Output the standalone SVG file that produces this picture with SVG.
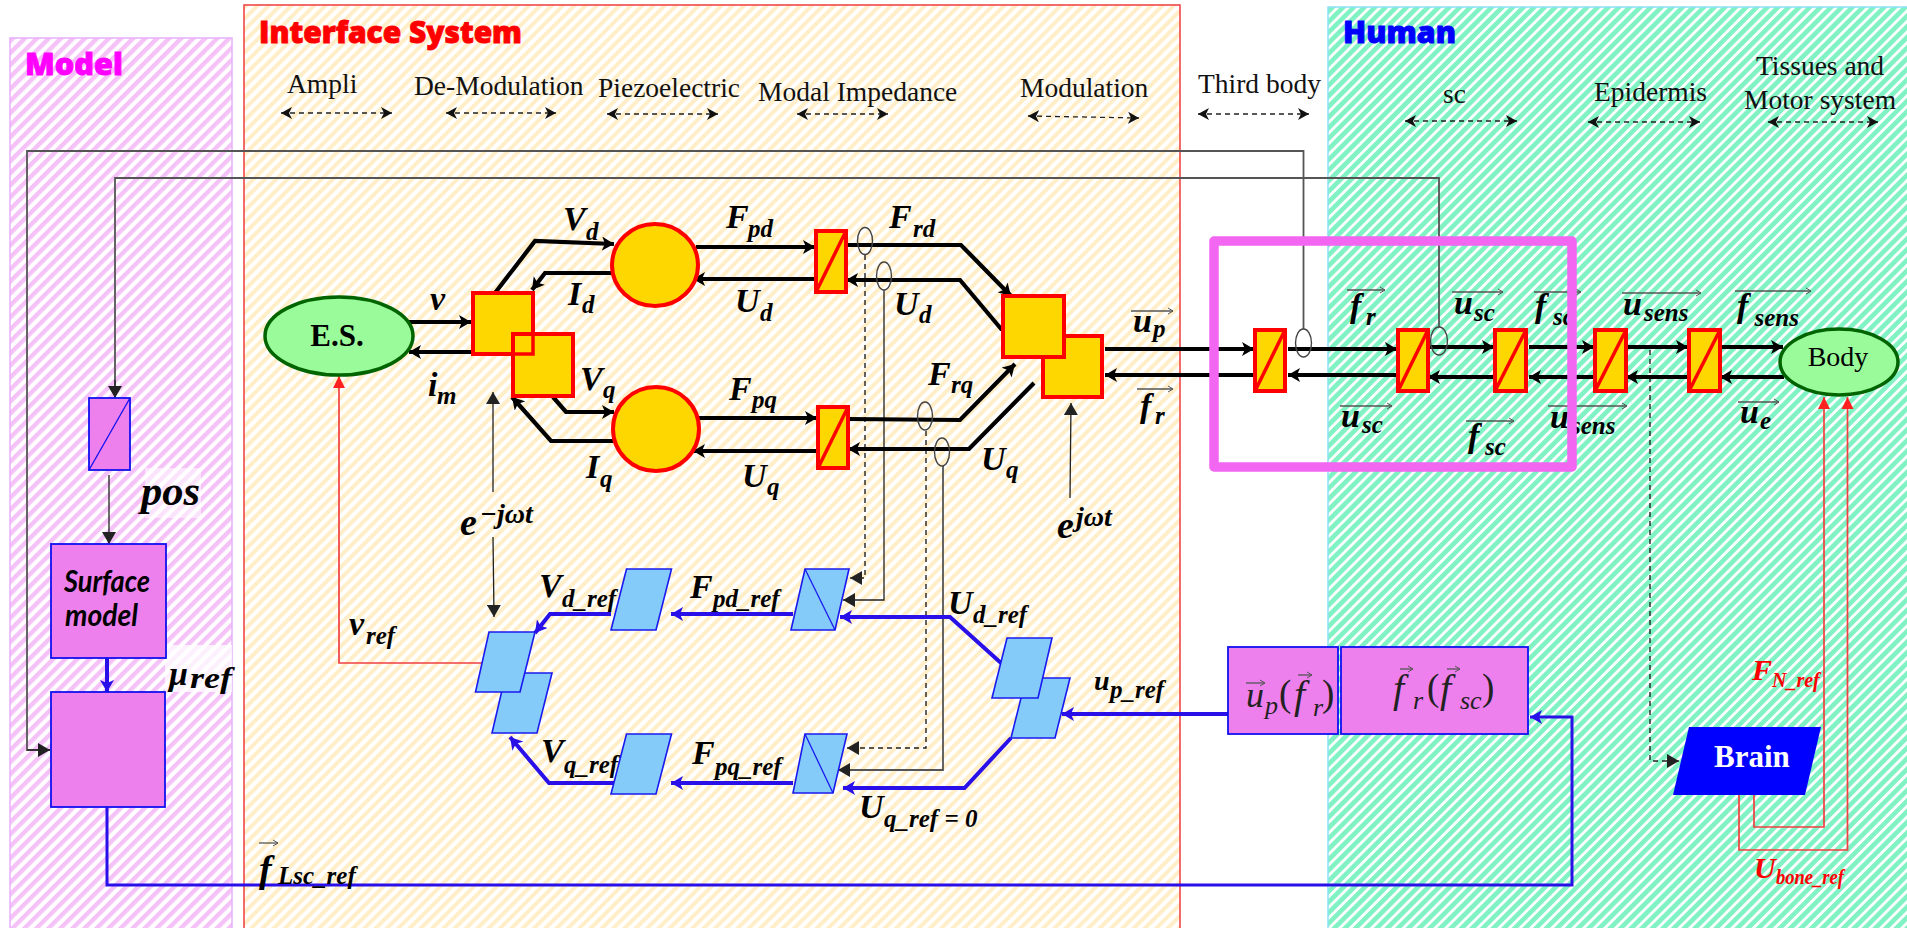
<svg xmlns="http://www.w3.org/2000/svg" width="1907" height="928" viewBox="0 0 1907 928">
<style>
text{font-family:"Liberation Serif","Times New Roman",serif;fill:#000}
.t{font-size:27.5px;fill:#111}
.h{font-family:"Open Sans","Liberation Sans",sans-serif;font-weight:800;font-size:30px;stroke-width:.9}
.m{font-weight:700;font-style:italic;font-size:34px}
.s{font-weight:700;font-style:italic;font-size:25px}
.ss{font-weight:700;font-style:italic;font-size:20px}
.f{font-style:italic;font-size:40px;fill:#222}
.fs{font-style:italic;font-size:26px;fill:#222}
.p{font-size:37px;fill:#222}
.sm{font-family:"Lato","Open Sans",sans-serif;font-weight:700;font-style:italic;font-size:30px}
.k{fill:none;stroke:#000;stroke-width:4.2}
.b{fill:none;stroke:#2A10E8;stroke-width:4}
.b3{fill:none;stroke:#2A10E8;stroke-width:3}
.g{fill:none;stroke:#555;stroke-width:1.8}
.g1{fill:none;stroke:#222;stroke-width:1.3}
.d{fill:none;stroke:#222;stroke-width:1.4;stroke-dasharray:5 4}
.r{fill:none;stroke:#F04040;stroke-width:1.7}
.oval{fill:none;stroke:#444;stroke-width:1.4}
.dim{fill:none;stroke:#222;stroke-width:1.3;stroke-dasharray:5 4;marker-start:url(#dimh);marker-end:url(#dimh)}
.vec{fill:none;stroke:#555;stroke-width:1.3;marker-end:url(#v)}
.y{fill:#FFD700;stroke:#FF0000;stroke-width:4}
.yd{fill:none;stroke:#FF0000;stroke-width:3.5}
.lb{fill:#85CBF9;stroke:#1A1AF0;stroke-width:1.6}
.pk{fill:#ED80ED;stroke:#1010F0;stroke-width:1.8}
.ma{marker-end:url(#ak)}
.mb{marker-end:url(#ab)}
.mg{marker-end:url(#ag)}
.mr{marker-end:url(#ar)}
</style>
<defs>
<pattern id="hm" width="8.5" height="8.5" patternUnits="userSpaceOnUse" patternTransform="rotate(45)"><rect width="8.5" height="8.5" fill="#fff"/><rect width="4.4" height="8.5" fill="#F5C2F8"/></pattern>
<pattern id="hi" width="8" height="8" patternUnits="userSpaceOnUse" patternTransform="rotate(45)"><rect width="8" height="8" fill="#fff"/><rect width="4" height="8" fill="#FFEEC8"/></pattern>
<pattern id="hh" width="7.5" height="7.5" patternUnits="userSpaceOnUse" patternTransform="rotate(45)"><rect width="7.5" height="7.5" fill="#fff"/><rect width="4.7" height="7.5" fill="#80F2C4"/></pattern>
<marker id="ak" markerUnits="userSpaceOnUse" markerWidth="13" markerHeight="14" refX="12" refY="7" orient="auto"><path d="M0 0L12 7L0 14L3 7Z" fill="#000"/></marker>
<marker id="ab" markerUnits="userSpaceOnUse" markerWidth="13" markerHeight="14" refX="12" refY="7" orient="auto"><path d="M0 0L12 7L0 14L3 7Z" fill="#2A10E8"/></marker>
<marker id="ag" markerUnits="userSpaceOnUse" markerWidth="13" markerHeight="14" refX="12" refY="7" orient="auto"><path d="M0 0L12 7L0 14Z" fill="#222"/></marker>
<marker id="ar" markerUnits="userSpaceOnUse" markerWidth="13" markerHeight="14" refX="12" refY="7" orient="auto"><path d="M0 1L12 7L0 13Z" fill="#FF2020"/></marker>
<marker id="dimh" markerUnits="userSpaceOnUse" markerWidth="12" markerHeight="14" refX="11" refY="7" orient="auto-start-reverse"><path d="M0 1L11 7L0 13L3 7Z" fill="#111"/></marker>
<marker id="v" markerUnits="userSpaceOnUse" markerWidth="7" markerHeight="8" refX="6" refY="4" orient="auto"><path d="M1 1L6 4L1 7" fill="none" stroke="#555" stroke-width="1"/></marker>
</defs>
<rect width="1907" height="928" fill="#fff"/>
<g id="panels">
<rect id="panel-model" x="10" y="38" width="222" height="900" fill="url(#hm)" stroke="#E8B0FA" stroke-width="1.5"/>
<rect id="panel-interface" x="244" y="5" width="936" height="933" fill="url(#hi)" stroke="#F04848" stroke-width="1.6"/>
<rect id="panel-human" x="1328" y="7" width="590" height="931" fill="url(#hh)" stroke="#8CE0F5" stroke-width="1.5"/>
<rect x="145" y="468" width="56" height="50" fill="#fff" fill-opacity=".55"/>
<rect x="165" y="645" width="67" height="47" fill="#fff" fill-opacity=".75"/>
</g>
<g id="connectors">
<path class="g" d="M1303.5 329V151H27V750H50" />
<path class="g1 mg" d="M27 750H50"/>
<path class="g" d="M1439 327V178H115V398"/>
<path class="g1 mg" d="M115 380V398"/>
<path class="g1 mg" d="M109 475V544"/>
<path class="g1 mg" d="M493 492V392"/>
<path class="g1 mg" d="M493 537L494 617"/>
<path class="g1 mg" d="M1070 498L1071 403"/>
<path class="d" d="M865 255V578H852"/><path class="g1 mg" d="M860 578H850"/>
<path class="g1 mg" d="M884 290V600H843"/>
<path class="d" d="M926 431V748H849"/><path class="g1 mg" d="M858 748H847"/>
<path class="g mg" d="M943 466V770H838"/>
<path class="d" d="M1650 350V761H1669"/><path class="g1 mg" d="M1668 761H1679"/>
<path class="r mr" d="M482 663H339V376"/>
<path class="r mr" d="M1754 791V827H1824V397"/>
<path class="r mr" d="M1739 794V850H1847.5V397"/>
<path class="k ma" d="M409 322H471"/>
<path class="k ma" d="M471 352H409"/>
<path class="k ma" d="M495 293L535 241L614 244"/>
<path class="k ma" d="M612 273H545L532 290"/>
<path class="k ma" d="M553 397L566 412H614"/>
<path class="k ma" d="M613 441H551L512 397"/>
<path class="k ma" d="M696 247H815"/>
<path class="k ma" d="M815 279H693"/>
<path class="k ma" d="M846 245H961L1011 296"/>
<path class="k ma" d="M1002 330L960 280H846"/>
<path class="k ma" d="M696 418H817"/>
<path class="k ma" d="M817 451H693"/>
<path class="k ma" d="M848 419L960 420L1015 364"/>
<path class="k ma" d="M1034 383L969 449H848"/>
<path class="k ma" d="M1105 349H1254"/>
<path class="k ma" d="M1254 375H1105"/>
<path class="k ma" d="M1288 349H1397"/>
<path class="k ma" d="M1397 375H1288"/>
<path class="k ma" d="M1428 347H1494"/>
<path class="k ma" d="M1494 377H1428"/>
<path class="k ma" d="M1529 347H1594"/>
<path class="k ma" d="M1594 377H1529"/>
<path class="k ma" d="M1626 347H1688"/>
<path class="k ma" d="M1688 377H1626"/>
<path class="k ma" d="M1720 347H1783"/>
<path class="k ma" d="M1784 377H1720"/>
<path class="b mb" d="M611 614H550L535 633"/>
<path class="b mb" d="M614 783H549L510 737"/>
<path class="b mb" d="M793 614H671"/>
<path class="b mb" d="M793 783H671"/>
<path class="b mb" d="M1001 663L950 617H840"/>
<path class="b mb" d="M1011 738L964.500 788H843"/>
<path class="b mb" d="M1228 714H1062"/>
<path class="b mb" d="M107 658V692"/>
<path class="b3 mb" d="M107 807V885H1572V717H1530"/>
<path class="dim" d="M281 113H392"/>
<path class="dim" d="M446 113H556"/>
<path class="dim" d="M607 114H718"/>
<path class="dim" d="M797 114H888"/>
<path class="dim" d="M1028 116L1139 118"/>
<path class="dim" d="M1198 114H1309"/>
<path class="dim" d="M1405 121H1517"/>
<path class="dim" d="M1588 122H1700"/>
<path class="dim" d="M1768 122H1878"/>
</g>
<g id="es"><ellipse cx="339" cy="336" rx="74" ry="39" fill="#99FB99" stroke="#006400" stroke-width="3.5"/><text x="337" y="346" text-anchor="middle" font-size="31" font-weight="700">E.S.</text></g>
<g id="demod-d"><rect class="y" x="473" y="293" width="60" height="61"/></g>
<g id="demod-q"><rect class="y" x="513" y="334" width="60" height="62"/><rect class="yd" x="473" y="293" width="60" height="61"/></g>
<g id="piezo-d"><ellipse cx="655" cy="265" rx="43" ry="41" class="y"/></g>
<g id="piezo-q"><ellipse cx="656" cy="429" rx="43" ry="42" class="y"/></g>
<g id="imp-d"><rect class="y" x="816" y="231" width="30" height="61"/><path class="yd" d="M816 292L846 231"/></g>
<g id="imp-q"><rect class="y" x="818" y="407" width="30" height="61"/><path class="yd" d="M818 468L848 407"/></g>
<g id="mod-q"><rect class="y" x="1043" y="336" width="59" height="61"/></g>
<g id="mod-d"><rect class="y" x="1003" y="296" width="61" height="61"/></g>
<g id="r1"><rect class="y" x="1255" y="330" width="30" height="61"/><path class="yd" d="M1255 391L1285 330"/></g>
<g id="r2"><rect class="y" x="1398" y="330" width="30" height="61"/><path class="yd" d="M1398 391L1428 330"/></g>
<g id="r3"><rect class="y" x="1495" y="330" width="31" height="61"/><path class="yd" d="M1495 391L1526 330"/></g>
<g id="r4"><rect class="y" x="1595" y="330" width="31" height="61"/><path class="yd" d="M1595 391L1626 330"/></g>
<g id="r5"><rect class="y" x="1689" y="330" width="31" height="61"/><path class="yd" d="M1689 391L1720 330"/></g>
<g id="body"><ellipse cx="1839" cy="362" rx="59" ry="33" fill="#99FB99" stroke="#006400" stroke-width="3.5"/><text x="1838" y="366" text-anchor="middle" font-size="28">Body</text></g>
<g id="ovals">
<ellipse class="oval" cx="865" cy="241" rx="7.500" ry="13.500"/>
<ellipse class="oval" cx="884" cy="276" rx="7.500" ry="14"/>
<ellipse class="oval" cx="925" cy="416" rx="7.500" ry="14"/>
<ellipse class="oval" cx="942" cy="452" rx="7.500" ry="14"/>
<ellipse class="oval" cx="1303.500" cy="343" rx="8" ry="14"/>
<ellipse class="oval" cx="1439" cy="341" rx="8.500" ry="14"/>
</g>
<g id="sensor"><rect x="89" y="398" width="41" height="72" fill="#ED80ED" stroke="#1010F0" stroke-width="1.8"/><path d="M89 470L130 398" stroke="#1010F0" stroke-width="1.3" fill="none"/></g>
<g id="surface"><rect class="pk" x="51" y="544" width="115" height="114"/><text class="sm" x="64" y="592" textLength="86" lengthAdjust="spacingAndGlyphs">Surface</text><text class="sm" x="65" y="626" textLength="73" lengthAdjust="spacingAndGlyphs">model</text></g>
<g id="friction"><rect class="pk" x="51" y="692" width="114" height="115"/></g>
<g id="ipark-q"><polygon class="lb" points="506,673 552,673 537,733 492,733"/></g>
<g id="ipark-d"><polygon class="lb" points="489,632 535,632 520,692 475.500,692"/></g>
<g id="vd-ref"><polygon class="lb" points="626.500,569 671.500,569 656,630 611,630"/></g>
<g id="vq-ref"><polygon class="lb" points="626.500,734 671.500,734 656,794 611,794"/></g>
<g id="pd-ref"><polygon class="lb" points="805,569 849,569 835,630 791,630"/><path d="M805 569L835 630" stroke="#1A1AF0" stroke-width="1.3" fill="none"/></g>
<g id="pq-ref"><polygon class="lb" points="805,734 847,734 833,793 793,793"/><path d="M805 734L833 793" stroke="#1A1AF0" stroke-width="1.3" fill="none"/></g>
<g id="park-q"><polygon class="lb" points="1026,678 1070,678 1055,738 1011,738"/></g>
<g id="park-d"><polygon class="lb" points="1007,638 1052,638 1038,698 992,698"/></g>
<g id="up-block"><rect class="pk" x="1228" y="647" width="110" height="87"/>
<text class="f" x="1246" y="707" style="font-size:36px">u</text><text class="fs" x="1265" y="714">p</text><text class="p" x="1279" y="706">(</text><text class="f" x="1294" y="708">f</text><text class="fs" x="1313" y="716">r</text><text class="p" x="1322" y="706">)</text>
<path class="vec" d="M1246 683H1265"/><path class="vec" d="M1298 675H1312"/></g>
<g id="fr-block"><rect class="pk" x="1341" y="647" width="187" height="87"/>
<text class="f" x="1393" y="702">f</text><text class="fs" x="1413" y="709">r</text><text class="p" x="1427" y="700">(</text><text class="f" x="1440" y="702">f</text><text class="fs" x="1460" y="709">sc</text><text class="p" x="1482" y="700">)</text>
<path class="vec" d="M1400 669H1413"/><path class="vec" d="M1447 669H1460"/></g>
<g id="brain"><polygon points="1689,727 1821,727 1805,795 1673,795" fill="#0000FF"/><text x="1714" y="767" font-size="31" font-weight="700" style="fill:#fff">Brain</text></g>
<g id="labels">
<text class="h" x="259" y="43" textLength="263" lengthAdjust="spacingAndGlyphs" style="fill:#FF0000;stroke:#FF0000">Interface System</text>
<text class="h" x="25" y="75" textLength="98" lengthAdjust="spacingAndGlyphs" style="fill:#FF00FF;stroke:#FF00FF">Model</text>
<text class="h" x="1343" y="43" textLength="113" lengthAdjust="spacingAndGlyphs" style="fill:#0000FF;stroke:#0000FF">Human</text>
<text class="t" x="287" y="93">Ampli</text>
<text class="t" x="414" y="95">De-Modulation</text>
<text class="t" x="598" y="97">Piezoelectric</text>
<text class="t" x="758" y="101">Modal Impedance</text>
<text class="t" x="1020" y="97">Modulation</text>
<text class="t" x="1198" y="93">Third body</text>
<text class="t" x="1443" y="103">sc</text>
<text class="t" x="1594" y="101">Epidermis</text>
<text class="t" x="1756" y="75">Tissues and</text>
<text class="t" x="1744" y="109">Motor system</text>
<text class="m" x="430" y="310">v</text>
<text class="m" x="563" y="230">V</text><text class="s" x="586" y="240">d</text>
<text class="m" x="568" y="305">I</text><text class="s" x="582" y="313">d</text>
<text class="m" x="428" y="396">i</text><text class="s" x="437" y="404">m</text>
<text class="m" x="580" y="390">V</text><text class="s" x="603" y="398">q</text>
<text class="m" x="586" y="478">I</text><text class="s" x="600" y="487">q</text>
<text class="m" x="726" y="228">F</text><text class="s" x="748" y="237">pd</text>
<text class="m" x="735" y="312">U</text><text class="s" x="760" y="321">d</text>
<text class="m" x="889" y="228">F</text><text class="s" x="913" y="237">rd</text>
<text class="m" x="894" y="315">U</text><text class="s" x="919" y="323">d</text>
<text class="m" x="729" y="400">F</text><text class="s" x="752" y="408">pq</text>
<text class="m" x="742" y="487">U</text><text class="s" x="767" y="495">q</text>
<text class="m" x="928" y="385">F</text><text class="s" x="951" y="393">rq</text>
<text class="m" x="981" y="470">U</text><text class="s" x="1006" y="478">q</text>
<text class="m" x="1133" y="332">u</text><text class="s" x="1153" y="337">p</text><path class="vec" d="M1131 311H1173"/>
<text class="m" x="1140" y="417">f</text><text class="s" x="1155" y="424">r</text><path class="vec" d="M1137 389H1173"/>
<text class="m" x="1350" y="317">f</text><text class="s" x="1366" y="325">r</text><path class="vec" d="M1347 290H1385"/>
<text class="m" x="1454" y="314">u</text><text class="s" x="1474" y="321">sc</text><path class="vec" d="M1452 292H1503"/>
<text class="m" x="1535" y="317">f</text><text class="s" x="1553" y="325">sc</text><path class="vec" d="M1534 292H1581"/>
<text class="m" x="1623" y="315">u</text><text class="s" x="1644" y="321">sens</text><path class="vec" d="M1622 293H1701"/>
<text class="m" x="1737" y="317">f</text><text class="s" x="1754.500" y="326">sens</text><path class="vec" d="M1735 291H1811"/>
<text class="m" x="1341" y="427">u</text><text class="s" x="1362" y="433">sc</text><path class="vec" d="M1340 406H1392"/>
<text class="m" x="1468" y="447">f</text><text class="s" x="1485" y="455">sc</text><path class="vec" d="M1466 421H1514"/>
<text class="m" x="1550" y="428">u</text><text class="s" x="1571" y="434">sens</text><path class="vec" d="M1548 406H1627"/>
<text class="m" x="1740" y="423">u</text><text class="s" x="1760" y="429">e</text><path class="vec" d="M1738 402H1779"/>
<text class="m" x="349" y="635">v</text><text class="s" x="366" y="644">ref</text>
<text class="m" x="460" y="535" style="font-size:38px">e</text><text class="m" x="480" y="523" style="font-size:28px">−jωt</text>
<text class="m" x="1057" y="538" style="font-size:38px">e</text><text class="m" x="1076" y="526" style="font-size:28px">jωt</text>
<text class="m" x="539" y="597">V</text><text class="s" x="562" y="607">d_ref</text>
<text class="m" x="541" y="762">V</text><text class="s" x="564" y="773">q_ref</text>
<text class="m" x="690" y="598">F</text><text class="s" x="713" y="607">pd_ref</text>
<text class="m" x="692" y="764">F</text><text class="s" x="715" y="775">pq_ref</text>
<text class="m" x="948" y="614">U</text><text class="s" x="973" y="623">d_ref</text>
<text class="m" x="859" y="818">U</text><text class="s" x="884" y="827">q_ref = 0</text>
<text class="m" x="1094" y="690" style="font-size:28px">u</text><text class="s" x="1110" y="698">p_ref</text>
<text class="m" x="141" y="505" textLength="59" lengthAdjust="spacingAndGlyphs" style="font-size:42px">pos</text>
<text class="m" x="169" y="685" style="font-size:34px">μ</text><text class="s" x="190" y="688" textLength="42" lengthAdjust="spacingAndGlyphs" style="font-size:30px">ref</text>
<text class="m" x="259" y="882" style="font-size:38px">f</text><text class="s" x="278" y="884">Lsc_ref</text><path class="vec" d="M259 843H278"/>
<text class="m" x="1752" y="680" style="fill:#FF0000;font-size:30px">F</text><text class="ss" x="1772" y="687" style="fill:#FF0000">N_ref</text>
<text class="m" x="1754" y="878" style="fill:#FF0000;font-size:30px">U</text><text class="ss" x="1776" y="884" style="fill:#FF0000" textLength="68" lengthAdjust="spacingAndGlyphs">bone_ref</text>
</g>
<g id="frame"><rect x="1214" y="241" width="358" height="226" fill="none" stroke="#F266F2" stroke-width="9.500" stroke-linejoin="round"/></g>
</svg>
